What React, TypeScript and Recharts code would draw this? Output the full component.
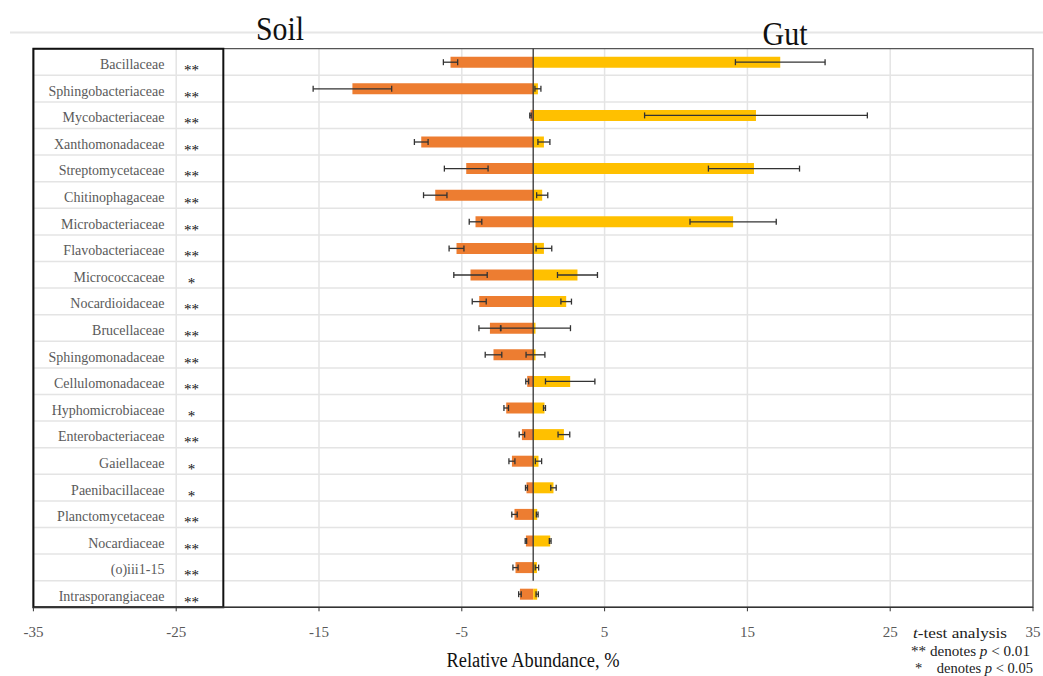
import React from 'react';
import {
  BarChart,
  Bar,
  XAxis,
  YAxis,
  CartesianGrid,
  ErrorBar,
  ReferenceLine,
  ReferenceArea,
} from 'recharts';

const families = [
  'Bacillaceae',
  'Sphingobacteriaceae',
  'Mycobacteriaceae',
  'Xanthomonadaceae',
  'Streptomycetaceae',
  'Chitinophagaceae',
  'Microbacteriaceae',
  'Flavobacteriaceae',
  'Micrococcaceae',
  'Nocardioidaceae',
  'Brucellaceae',
  'Sphingomonadaceae',
  'Cellulomonadaceae',
  'Hyphomicrobiaceae',
  'Enterobacteriaceae',
  'Gaiellaceae',
  'Paenibacillaceae',
  'Planctomycetaceae',
  'Nocardiaceae',
  '(o)iii1-15',
  'Intrasporangiaceae',
];

const stars = [
  '**', '**', '**', '**', '**', '**', '**', '**', '*', '**', '**',
  '**', '**', '*', '**', '*', '*', '**', '**', '**', '**',
];

const soilMean = [
  -5.79, -12.66, -0.19, -7.84, -4.69, -6.86, -4.04, -5.37, -4.39, -3.78, -3.03,
  -2.78, -0.42, -1.89, -0.79, -1.49, -0.47, -1.31, -0.51, -1.24, -0.93,
];
const soilErr = [
  0.5, 2.75, 0.05, 0.48, 1.53, 0.82, 0.44, 0.52, 1.17, 0.49, 0.77,
  0.58, 0.1, 0.16, 0.19, 0.21, 0.07, 0.19, 0.05, 0.18, 0.09,
];
const gutMean = [
  17.3, 0.33, 15.6, 0.75, 15.46, 0.63, 14.0, 0.75, 3.1, 2.31, 0.16,
  0.16, 2.59, 0.79, 2.15, 0.37, 1.42, 0.28, 1.19, 0.26, 0.28,
];
const gutErr = [
  3.14, 0.21, 7.8, 0.42, 3.19, 0.39, 3.02, 0.55, 1.4, 0.37, 2.45,
  0.66, 1.73, 0.07, 0.41, 0.22, 0.19, 0.06, 0.06, 0.12, 0.08,
];

const xTicks = [-35, -25, -15, -5, 5, 15, 25, 35];
const xDomain = [-35, 35];
const labelBoxRight = -21.7;

const data = families.map((name, i) => ({
  name,
  soil: soilMean[i],
  soilErr: soilErr[i],
  gut: gutMean[i],
  gutErr: gutErr[i],
}));

const SERIF = '"Liberation Serif", "Times New Roman", serif';

const FamilyTick = (props: any) => {
  const { x, y, payload } = props;
  const idx = families.indexOf(payload.value);
  return (
    <g>
      <text
        x={x + 131}
        y={y}
        dy={7}
        textAnchor="end"
        fontSize={14}
        fill="#5a5a5a"
        fontFamily={SERIF}
      >
        {payload.value}
      </text>
      <text
        x={x + 158}
        y={y}
        dy={13}
        textAnchor="middle"
        fontSize={15}
        fill="#111"
        fontFamily={SERIF}
      >
        {stars[idx]}
      </text>
    </g>
  );
};

const rowBoundaries = (args: any) => {
  const { offset } = args;
  const n = families.length;
  const out: number[] = [];
  for (let k = 1; k < n; k++) out.push(offset.top + (offset.height * k) / n);
  return out;
};

const ZeroLine = (p: any) => {
  const yTop = Math.min(p.y1, p.y2);
  const yBot = Math.max(p.y1, p.y2);
  const cut = (yBot - yTop) / families.length;
  return <line x1={p.x1} x2={p.x2} y1={yTop} y2={yBot - cut} stroke="#333" strokeWidth={1.3} />;
};

export default function App() {
  return (
    <div style={{ position: 'absolute', left: 0, top: 0, width: 1043, height: 676, background: '#fff' }}>
      <BarChart
        width={1043}
        height={676}
        data={data}
        layout="vertical"
        stackOffset="sign"
        barSize={11}
        margin={{ top: 48.7, right: 10, left: 23.4, bottom: 8.7 }}
      >
        <CartesianGrid
          stroke="#e4e4e4"
          strokeWidth={1.5}
          horizontalCoordinatesGenerator={rowBoundaries}
        />
        <XAxis
          type="number"
          domain={xDomain}
          ticks={xTicks}
          allowDataOverflow
          height={60}
          tickSize={4}
          tickMargin={15.5}
          axisLine={{ stroke: '#333', strokeWidth: 1.5 }}
          tickLine={{ stroke: '#333' }}
          tick={{ fill: '#595959', fontSize: 15, fontFamily: SERIF }}
        />
        <YAxis
          type="category"
          dataKey="name"
          width={10}
          interval={0}
          tickSize={0}
          tickMargin={0}
          axisLine={false}
          tickLine={false}
          tick={FamilyTick}
        />
        <ReferenceArea x1={-35} x2={35} fill="none" fillOpacity={0} stroke="#555" strokeWidth={1.3} ifOverflow="visible" />
        <Bar dataKey="soil" stackId="a" fill="#ED7D31" isAnimationActive={false}>
          <ErrorBar dataKey="soilErr" direction="x" width={3} stroke="#333" strokeWidth={1.3} />
        </Bar>
        <Bar dataKey="gut" stackId="a" fill="#FFC000" isAnimationActive={false}>
          <ErrorBar dataKey="gutErr" direction="x" width={3} stroke="#333" strokeWidth={1.3} />
        </Bar>
        <ReferenceLine x={0} shape={ZeroLine} />
        <ReferenceArea x1={-35} x2={labelBoxRight} fill="none" fillOpacity={0} stroke="#111" strokeWidth={2} ifOverflow="visible" />
      </BarChart>
      <svg
        width={1043}
        height={676}
        style={{ position: 'absolute', left: 0, top: 0, pointerEvents: 'none' }}
      >
        <line x1={10} x2={1043} y1={32.5} y2={32.5} stroke="#e6e6e6" strokeWidth={2} />
        <text x={280} y={40} textAnchor="middle" fontSize={34} textLength={48} lengthAdjust="spacingAndGlyphs" fontFamily={SERIF} fill="#111">
          Soil
        </text>
        <text x={785} y={45} textAnchor="middle" fontSize={34} textLength={45} lengthAdjust="spacingAndGlyphs" fontFamily={SERIF} fill="#111">
          Gut
        </text>
        <text x={533} y={667} textAnchor="middle" fontSize={20} textLength={173} lengthAdjust="spacingAndGlyphs" fontFamily={SERIF} fill="#111">
          Relative Abundance, %
        </text>
        <text x={913} y={638} fontSize={14.5} textLength={94} lengthAdjust="spacingAndGlyphs" fontFamily={SERIF} fill="#222">
          <tspan fontStyle="italic">t</tspan>-test analysis
        </text>
        <text x={911} y={656} fontSize={14} textLength={119} lengthAdjust="spacingAndGlyphs" fontFamily={SERIF} fill="#222">
          ** denotes <tspan fontStyle="italic">p</tspan> &lt; 0.01
        </text>
        <text x={915} y={673} fontSize={14} textLength={118} lengthAdjust="spacingAndGlyphs" fontFamily={SERIF} fill="#222">
          *{'\u2003'}denotes <tspan fontStyle="italic">p</tspan> &lt; 0.05
        </text>
      </svg>
    </div>
  );
}
